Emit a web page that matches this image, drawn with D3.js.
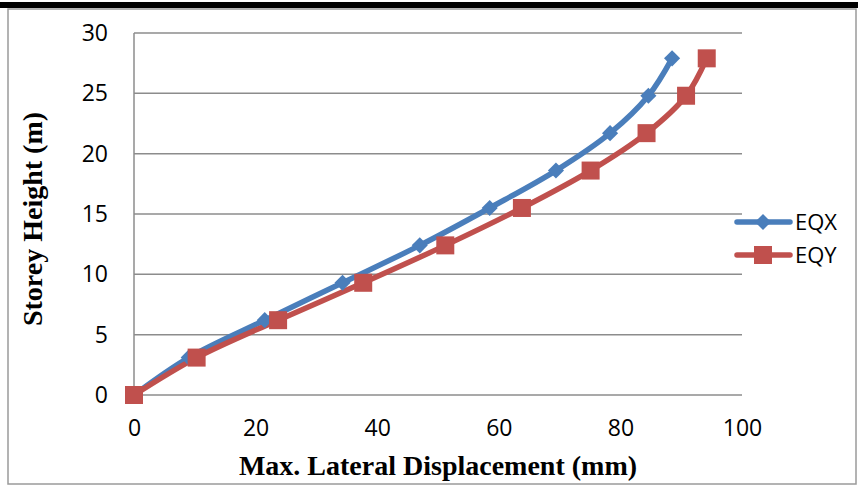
<!DOCTYPE html>
<html><head><meta charset="utf-8">
<script src="https://cdn.jsdelivr.net/npm/d3@7"></script>
<style>html,body{margin:0;padding:0;background:#fff;}svg{display:block;}</style>
</head><body>
<script>
const heights = [0, 3.1, 6.2, 9.3, 12.4, 15.5, 18.6, 21.7, 24.8, 27.9];
const eqx = [0, 9, 21.5, 34.3, 47, 58.5, 69.4, 78.3, 84.6, 88.5];
const eqy = [0, 10.3, 23.7, 37.7, 51.2, 63.8, 75.1, 84.3, 90.8, 94.2];
const xTicks = [0, 20, 40, 60, 80, 100];
const yTicks = [0, 5, 10, 15, 20, 25, 30];
const seriesNames = ["EQX", "EQY"];

const W = 858, H = 486;
const svg = d3.select("body").append("svg").attr("width", W).attr("height", H);
const sans = "'Open Sans', 'Liberation Sans', sans-serif";

// outer frame
svg.append("rect").attr("x", 8).attr("y", 9).attr("width", 848).attr("height", 475)
  .attr("fill", "none").attr("stroke", "#9a9a9a").attr("stroke-width", 1.5);
svg.append("rect").attr("x", 0).attr("y", 2).attr("width", W).attr("height", 6).attr("fill", "#000");

const x = d3.scaleLinear().domain([0, 100]).range([134, 742]);
const y = d3.scaleLinear().domain([0, 30]).range([395, 33]);

// gridlines
svg.append("g").selectAll("line").data(yTicks).join("line")
  .attr("x1", x(0)).attr("x2", x(100)).attr("y1", d => y(d)).attr("y2", d => y(d))
  .attr("stroke", "#8c8c8c").attr("stroke-width", 1.5);
svg.append("line").attr("x1", x(0)).attr("x2", x(0)).attr("y1", y(0)).attr("y2", y(30))
  .attr("stroke", "#8c8c8c").attr("stroke-width", 1.5);

const yAxis = svg.append("g").attr("transform", `translate(${x(0)},0)`)
  .call(d3.axisLeft(y).tickValues(yTicks).tickSize(0).tickPadding(26));
yAxis.select(".domain").remove();
yAxis.selectAll("text").attr("font-family", sans).attr("font-size", 23).attr("fill", "#000");

const xAxis = svg.append("g").attr("transform", `translate(0,${y(0)})`)
  .call(d3.axisBottom(x).tickValues(xTicks).tickSize(0).tickPadding(25));
xAxis.select(".domain").remove();
xAxis.selectAll("text").attr("font-family", sans).attr("font-size", 23).attr("fill", "#000");

// titles
svg.append("text").attr("x", 438).attr("y", 475).attr("text-anchor", "middle")
  .attr("font-family", "'Liberation Serif', serif").attr("font-weight", "bold").attr("font-size", 28)
  .text("Max. Lateral Displacement (mm)");
svg.append("text").attr("transform", "translate(42,219) rotate(-90)").attr("text-anchor", "middle")
  .attr("font-family", "'Liberation Serif', serif").attr("font-weight", "bold").attr("font-size", 28)
  .text("Storey Height (m)");

const colors = ["#4a7ebb", "#c0504d"];
const data = [eqx, eqy].map(arr => arr.map((v, i) => [v, heights[i]]));
const line = d3.line().x(d => x(d[0])).y(d => y(d[1])).curve(d3.curveCatmullRom.alpha(0.5));

data.forEach((pts, si) => {
  svg.append("path").attr("d", line(pts)).attr("fill", "none")
    .attr("stroke", colors[si]).attr("stroke-width", 5.5).attr("stroke-linejoin", "round");
});
const dia = d3.symbol().type(d3.symbolSquare).size(130);
svg.append("g").selectAll("path").data(data[0]).join("path")
  .attr("d", dia)
  .attr("transform", d => `translate(${x(d[0])},${y(d[1])}) rotate(45)`)
  .attr("fill", colors[0]);
svg.append("g").selectAll("rect").data(data[1]).join("rect")
  .attr("x", d => x(d[0]) - 9).attr("y", d => y(d[1]) - 9).attr("width", 18).attr("height", 18)
  .attr("fill", colors[1]);

// legend
const lg = svg.append("g");
seriesNames.forEach((n, i) => {
  const ly = 222 + i * 33;
  lg.append("line").attr("x1", 737).attr("x2", 790).attr("y1", ly).attr("y2", ly)
    .attr("stroke", colors[i]).attr("stroke-width", 5.5).attr("stroke-linecap", "round");
  if (i === 0) {
    lg.append("path").attr("d", dia()).attr("transform", `translate(763,${ly}) rotate(45)`).attr("fill", colors[0]);
  } else {
    lg.append("rect").attr("x", 754).attr("y", ly - 9).attr("width", 18).attr("height", 18).attr("fill", colors[1]);
  }
  lg.append("text").attr("x", 795).attr("y", ly + 8).attr("font-family", sans)
    .attr("font-size", 22).text(n);
});
</script>
</body></html>
